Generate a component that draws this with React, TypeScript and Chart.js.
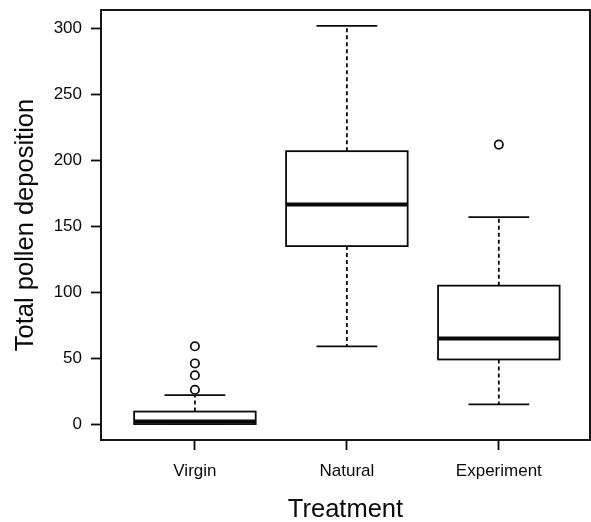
import React, { useEffect, useRef } from "react";
import { Chart, registerables } from "chart.js";

Chart.register(...registerables);

const categories = ["Virgin", "Natural", "Experiment"];
const whiskerLow = [0, 59, 15];
const q1 = [0, 135, 49];
const median = [2, 166.5, 65];
const q3 = [9.5, 207, 105];
const whiskerHigh = [22, 302, 157];
const outliers = [[26, 37, 46, 59], [], [212]];
const yTicks = [0, 50, 100, 150, 200, 250, 300];
const xTicks = [1, 2, 3];

const FONT = "'Liberation Sans', Arial, Helvetica, sans-serif";
const INK = "#0a0a0a";

const boxPlugin = {
  id: "boxes",
  beforeDatasetsDraw(chart: any) {
    const { ctx, scales } = chart;
    const x = scales.x;
    const y = scales.y;
    ctx.save();
    ctx.strokeStyle = INK;
    categories.forEach((_, i) => {
      const c = i + 1;
      const xl = x.getPixelForValue(c - 0.4);
      const xr = x.getPixelForValue(c + 0.4);
      const xc = x.getPixelForValue(c);
      const cl = x.getPixelForValue(c - 0.2);
      const cr = x.getPixelForValue(c + 0.2);
      const yq1 = y.getPixelForValue(q1[i]);
      const yq3 = y.getPixelForValue(q3[i]);
      const ym = y.getPixelForValue(median[i]);
      const ylo = y.getPixelForValue(whiskerLow[i]);
      const yhi = y.getPixelForValue(whiskerHigh[i]);
      ctx.lineWidth = 1.8;
      ctx.setLineDash([4, 3]);
      ctx.beginPath();
      ctx.moveTo(xc, yq3);
      ctx.lineTo(xc, yhi);
      ctx.moveTo(xc, yq1);
      ctx.lineTo(xc, ylo);
      ctx.stroke();
      ctx.setLineDash([]);
      ctx.beginPath();
      ctx.moveTo(cl, yhi);
      ctx.lineTo(cr, yhi);
      ctx.moveTo(cl, ylo);
      ctx.lineTo(cr, ylo);
      ctx.stroke();
      ctx.fillStyle = "#ffffff";
      ctx.fillRect(xl, yq3, xr - xl, yq1 - yq3);
      ctx.strokeRect(xl, yq3, xr - xl, yq1 - yq3);
      ctx.lineWidth = 4;
      ctx.beginPath();
      ctx.moveTo(xl, ym);
      ctx.lineTo(xr, ym);
      ctx.stroke();
    });
    ctx.restore();
  },
  afterDraw(chart: any) {
    const { ctx, chartArea } = chart;
    ctx.save();
    ctx.strokeStyle = INK;
    ctx.lineWidth = 1.9;
    ctx.strokeRect(chartArea.left, chartArea.top, chartArea.right - chartArea.left, chartArea.bottom - chartArea.top);
    ctx.restore();
  },
};

export default function App() {
  const ref = useRef<HTMLCanvasElement>(null);
  useEffect(() => {
    if (!ref.current) return;
    const outlierPts: { x: number; y: number }[] = [];
    outliers.forEach((arr, i) => arr.forEach((v) => outlierPts.push({ x: i + 1, y: v })));
    const chart = new Chart(ref.current, {
      type: "scatter",
      data: {
        datasets: [
          {
            data: outlierPts,
            pointStyle: "circle",
            pointRadius: 4.2,
            pointBorderWidth: 1.7,
            pointBorderColor: INK,
            pointBackgroundColor: "#ffffff",
          },
        ],
      },
      options: {
        animation: false,
        responsive: false,
        devicePixelRatio: 1,
        layout: { autoPadding: false, padding: { left: 0, right: 1, top: 10, bottom: 0 } },
        plugins: { legend: { display: false }, tooltip: { enabled: false } },
        scales: {
          x: {
            type: "linear",
            min: 0.382,
            max: 3.6,
            afterBuildTicks: (s: any) => {
              s.ticks = xTicks.map((v) => ({ value: v }));
            },
            afterFit: (s: any) => {
              s.height = 82;
              s.paddingLeft = 0;
              s.paddingRight = 0;
            },
            ticks: {
              color: INK,
              font: { family: FONT, size: 17 },
              padding: 11,
              maxRotation: 0,
              autoSkip: false,
              callback: (v: any) => categories[Number(v) - 1] ?? "",
            },
            grid: { drawOnChartArea: false, drawTicks: true, tickLength: 10, color: INK, tickWidth: 1.8 },
            border: { display: false },
            title: {
              display: true,
              text: "Treatment",
              color: INK,
              font: { family: FONT, size: 25.5, lineHeight: 1 },
              padding: { top: 0, bottom: -1 },
            },
          },
          y: {
            type: "linear",
            min: -12.08,
            max: 314.08,
            afterBuildTicks: (s: any) => {
              s.ticks = yTicks.map((v) => ({ value: v }));
            },
            afterFit: (s: any) => {
              s.width = 101;
              s.paddingTop = 0;
              s.paddingBottom = 0;
            },
            ticks: {
              color: INK,
              font: { family: FONT, size: 17 },
              padding: 9,
              autoSkip: false,
              callback: (v: any) => String(v),
            },
            grid: { drawOnChartArea: false, drawTicks: true, tickLength: 10, color: INK, tickWidth: 1.8 },
            border: { display: false },
            title: {
              display: true,
              text: "Total pollen deposition",
              color: INK,
              font: { family: FONT, size: 25.5 },
              padding: { top: 11, bottom: 0 },
            },
          },
        },
      },
      plugins: [boxPlugin],
    });
    return () => chart.destroy();
  }, []);
  return (
    <div style={{ position: "absolute", left: 0, top: 0, width: 591, height: 522, background: "#fff" }}>
      <canvas ref={ref} width={591} height={522} style={{ width: 591, height: 522 }} />
    </div>
  );
}
